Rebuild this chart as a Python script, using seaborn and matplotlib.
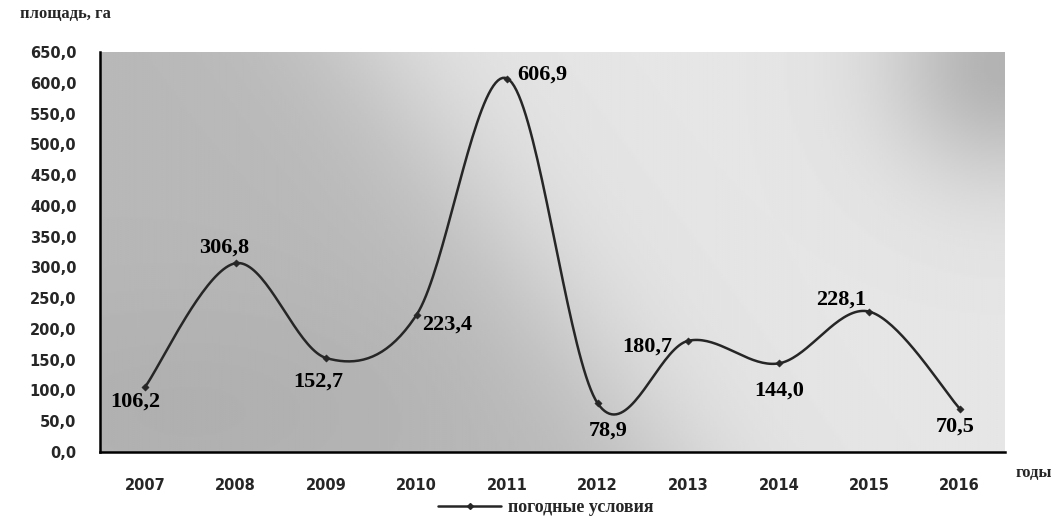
import numpy as np
import matplotlib
matplotlib.use("Agg")
import matplotlib.pyplot as plt
from matplotlib.lines import Line2D
from matplotlib.ticker import FuncFormatter
import seaborn as sns

# data
years = ["2007", "2008", "2009", "2010", "2011", "2012", "2013", "2014", "2015", "2016"]
area = [106.2, 306.8, 152.7, 223.4, 606.9, 78.9, 180.7, 144.0, 228.1, 70.5]
series_name = "погодные условия"
# label offsets in pixels (dx, dy) from each point
label_offsets = [(-10, -15), (-12, 16), (-8, -24), (30, -10), (35, 4),
                 (10, -27), (-41, -6), (0, -27), (-28, 12), (-5, -18)]

sns.set_style("white")
plt.rcParams["font.family"] = ["DejaVu Sans"]

fig = plt.figure(figsize=(10.59, 5.16), dpi=100)
ax = fig.add_axes([100 / 1059, 64 / 516, 905 / 1059, 400 / 516])

# shaded background (grey on the left, light on the right, dark top-right corner)
u = np.linspace(0, 1, 400)
v = np.linspace(0, 1, 200)
U, V = np.meshgrid(u, v)
edge = 0.62 - 0.32 * V
bg = 0.72 + 0.18 / (1 + np.exp(-(U - edge) / 0.06))
bg -= 0.20 * np.exp(-((U - 1.0) ** 2) / (2 * 0.09 ** 2) - ((V - 0.97) ** 2) / (2 * 0.2 ** 2))
bg -= 0.03 * np.exp(-((U - 0.1) ** 2 + (V - 0.1) ** 2) / (2 * 0.2 ** 2))
ax.imshow(bg, cmap="gray", vmin=0, vmax=1, extent=[0, 1, 0, 1], origin="lower",
          transform=ax.transAxes, aspect="auto", zorder=0, interpolation="bilinear")

# smoothed line like a spreadsheet "smooth line"
x = np.arange(len(area), dtype=float)
y = np.array(area)
px = np.concatenate([[x[0]], x, [x[-1]]])
py = np.concatenate([[y[0]], y, [y[-1]]])
cx, cy = [], []
t = np.linspace(0, 1, 40)
for i in range(len(x) - 1):
    p0 = np.array([px[i + 1], py[i + 1]])
    p3 = np.array([px[i + 2], py[i + 2]])
    p1 = p0 + (p3 - np.array([px[i], py[i]])) / 6
    p2 = p3 - (np.array([px[i + 3], py[i + 3]]) - p0) / 6
    b = ((1 - t) ** 3)[:, None] * p0 + (3 * (1 - t) ** 2 * t)[:, None] * p1 \
        + (3 * (1 - t) * t ** 2)[:, None] * p2 + (t ** 3)[:, None] * p3
    cx.extend(b[:, 0])
    cy.extend(b[:, 1])

line_color = "#262626"
sns.lineplot(x=cx, y=cy, sort=False, color=line_color, linewidth=1.8, ax=ax, zorder=3)
sns.scatterplot(x=x, y=y, marker="D", s=14, color=line_color, edgecolor=line_color,
                ax=ax, zorder=4)

for xi, yi, (dx, dy) in zip(x, y, label_offsets):
    ax.annotate(f"{yi:.1f}".replace(".", ","), (xi, yi), xytext=(dx, dy),
                textcoords="offset pixels", ha="center", va="center",
                fontsize=16, fontweight="bold", family="Liberation Serif",
                color="black", zorder=5)

ax.set_xlim(-0.5, len(years) - 0.5)
ax.set_ylim(0, 650)
ax.set_yticks(np.arange(0, 651, 50))
ax.yaxis.set_major_formatter(FuncFormatter(lambda val, pos: f"{val:.1f}".replace(".", ",")))
ax.set_xticks(np.arange(-0.5, len(years), 1.0))
ax.set_xticklabels([])
ax.set_xticks(x, minor=True)
ax.set_xticklabels(years, minor=True)
ax.tick_params(axis="x", which="major", direction="out", length=5, width=1.5, color="black")
ax.tick_params(axis="x", which="minor", length=0, pad=19, labelsize=10.5)
ax.tick_params(axis="y", direction="out", length=6, width=1.5, color="black", pad=11, labelsize=10.5)
for lab in ax.get_xticklabels(minor=True) + ax.get_yticklabels():
    lab.set_fontweight("bold")

for side in ["top", "right"]:
    ax.spines[side].set_visible(False)
for side in ["left", "bottom"]:
    ax.spines[side].set_color("black")
    ax.spines[side].set_linewidth(1.8)
ax.grid(False)
ax.set_xlabel("")
ax.set_ylabel("")

fig.text(20 / 1059, 1 - 14 / 516, "площадь, га", ha="left", va="center",
         fontsize=12, fontweight="bold", family="Liberation Serif")
fig.text(1034 / 1059, 1 - 473 / 516, "годы", ha="center", va="center",
         fontsize=12, fontweight="bold", family="Liberation Serif")

handle = Line2D([0], [0], color=line_color, linewidth=1.8, marker="D", markersize=3)
fig.legend([handle], [series_name], loc="center", bbox_to_anchor=(546 / 1059, 8 / 516),
           frameon=False, handlelength=3.5, handletextpad=0.4,
           prop={"family": "Liberation Serif", "weight": "bold", "size": 13})

fig.savefig("out.png", dpi=100)
